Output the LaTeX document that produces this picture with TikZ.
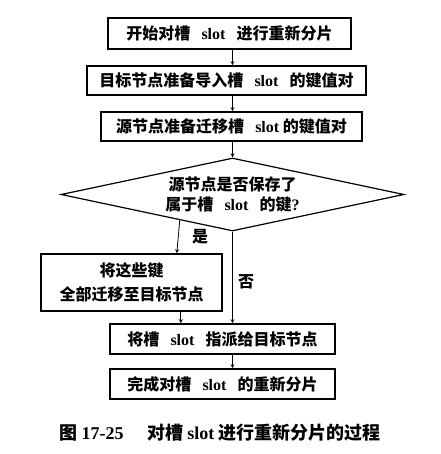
\documentclass[tikz,border=0pt]{standalone}
\usepackage{fontspec}
\setmainfont{Liberation Serif}
\newfontfamily\zh{Noto Sans CJK SC}
\usetikzlibrary{shapes.geometric}
\newcommand{\lat}[1]{{\rmfamily\bfseries #1}}
\newcommand{\wsp}{\hspace{0.7em}}

\begin{document}
\begin{tikzpicture}[x=1pt, y=-1pt, >=stealth, font=\zh\bfseries\fontsize{16}{20}\selectfont,
  box/.style={draw, line width=1.6pt, inner sep=0pt}]
\useasboundingbox (0, 0) rectangle (440, 454);
\node [box, minimum width=243pt, minimum height=31pt] (start) at (229.5, 33.5) {开始对槽\wsp\lat{slot}\wsp 进行重新分片};
\node [box, minimum width=279pt, minimum height=29pt] (import) at (226.5, 80.5) {目标节点准备导入槽\wsp\lat{slot}\wsp 的键值对};
\node [box, minimum width=261pt, minimum height=29pt] (export) at (231.5, 126.5) {源节点准备迁移槽\wsp\lat{slot} 的键值对};
\node [draw, diamond, aspect=4.7, line width=1.2pt, inner sep=0pt, minimum width=343pt, minimum height=73pt, align=center] (test) at (232.5, 194.5) {源节点是否保存了\\属于槽\wsp\lat{slot}\wsp 的键\lat{?}};
\node [box, minimum width=181pt, minimum height=57pt, align=center, font=\zh\bfseries\fontsize{16}{24}\selectfont] (move) at (131.5, 282.5) {将这些键\\全部迁移至目标节点};
\node [box, minimum width=225pt, minimum height=30pt] (assign) at (222.5, 339) {将槽\wsp\lat{slot}\wsp 指派给目标节点};
\node [box, minimum width=225pt, minimum height=30pt] (done) at (222.5, 384) {完成对槽\wsp\lat{slot}\wsp 的重新分片};
\node [font=\zh\bfseries\fontsize{18}{22}\selectfont] (caption) at (220, 433) {图 \lat{17-25}\hspace{1.3em}对槽 \lat{slot} 进行重新分片的过程};
\coordinate (mid) at ([xshift=-42pt]move.south east);
\draw [->, line width=0.8pt] (start.south -| test.north) -- (import.north -| test.north);
\draw [->, line width=0.8pt] (import.south -| test.north) -- (export.north -| test.north);
\draw [->, line width=0.8pt] (export.south -| test.north) -- (test.north);
\draw [->, line width=0.8pt] (test.206) -- node (yes) [right=10pt] {是} ([xshift=-46pt]move.north east);
\draw [->, line width=0.8pt] (test.south) -- node (no) [pos=0.55, right=2pt] {否} (test.south |- assign.north);
\draw [->, line width=0.8pt] (mid) -- (mid |- assign.north);
\draw [->, line width=0.8pt] (assign.south -| test.south) -- (done.north -| test.south);
\end{tikzpicture}
\end{document}
